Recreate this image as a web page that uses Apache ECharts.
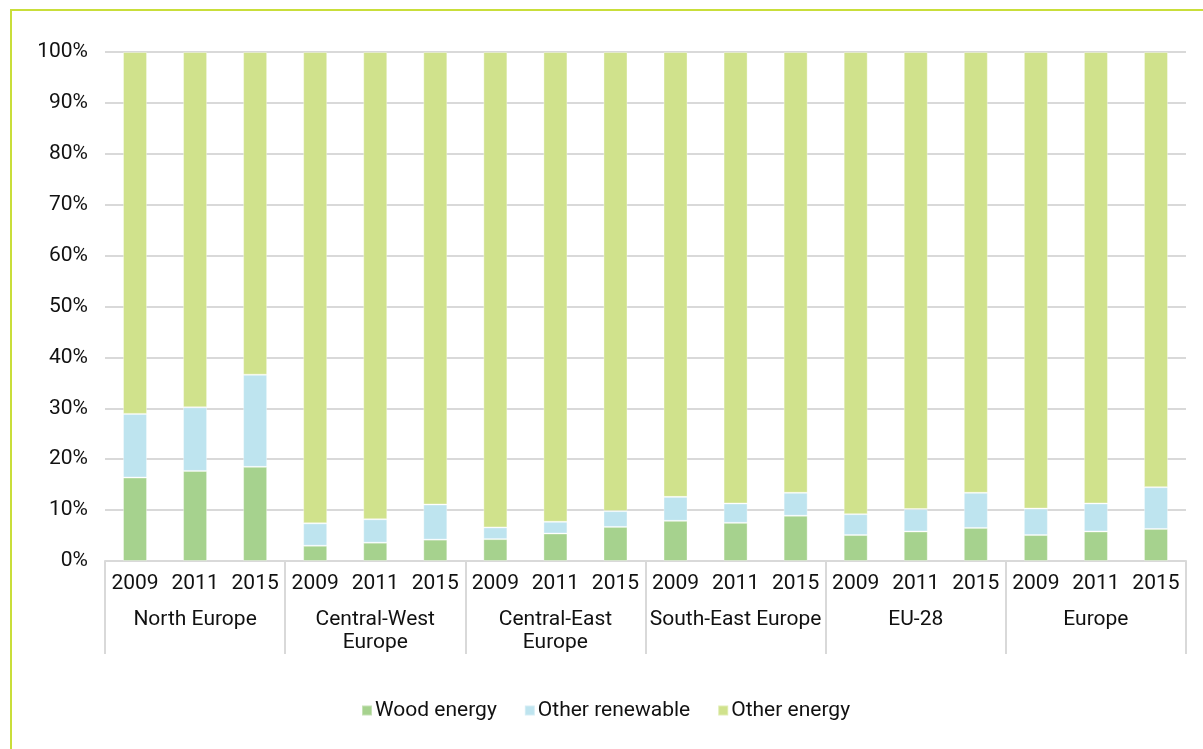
<!DOCTYPE html>
<html>
<head>
<meta charset="utf-8">
<script src="https://cdn.jsdelivr.net/npm/echarts@6/dist/echarts.min.js"></script>
<style>
html,body{margin:0;padding:0;background:#fff;}
#chart{width:1203px;height:749px;}
</style>
</head>
<body>
<div id="chart"></div>
<script>
const groups = ['North Europe', 'Central-West\nEurope', 'Central-East\nEurope', 'South-East Europe', 'EU-28', 'Europe'];
const years = ['2009', '2011', '2015'];
const yTicks = ['0%','10%','20%','30%','40%','50%','60%','70%','80%','90%','100%'];
const woodEnergy = [16.4, 17.7, 18.5, 3.0, 3.6, 4.2, 4.3, 5.4, 6.7, 7.9, 7.5, 8.9, 5.1, 5.8, 6.5, 5.1, 5.8, 6.3];
const otherRenewable = [12.5, 12.5, 18.1, 4.4, 4.6, 6.9, 2.3, 2.3, 3.1, 4.7, 3.8, 4.5, 4.1, 4.4, 6.9, 5.2, 5.5, 8.2];
const otherEnergy = [71.1, 69.8, 63.4, 92.6, 91.8, 88.9, 93.4, 92.3, 90.2, 87.4, 88.7, 86.6, 90.8, 89.8, 86.6, 89.7, 88.7, 85.5];

const yearCats = [];
groups.forEach(() => years.forEach(y => yearCats.push(y)));

const FONT = 'Roboto';
const FS = 21;
const chart = echarts.init(document.getElementById('chart'));
const barStyle = (color) => ({
  type: 'bar', stack: 'total', barWidth: 24,
  itemStyle: { color: color, borderColor: 'rgba(255,255,255,0.35)', borderWidth: 1 }
});
chart.setOption({
  animation: false,
  backgroundColor: '#fff',
  textStyle: { fontFamily: FONT },
  graphic: [{
    type: 'rect', shape: { x: 11, y: 10, width: 1400, height: 900 },
    style: { fill: 'none', stroke: '#c9de3a', lineWidth: 2 }, silent: true, z: -1
  }],
  grid: { left: 105, right: 17, top: 52, bottom: 188, containLabel: false },
  legend: {
    left: 356, top: 695,
    itemWidth: 10, itemHeight: 10, itemGap: 27,
    icon: 'rect',
    textStyle: { fontFamily: FONT, fontSize: FS, color: '#111', padding: [0, 0, 0, -2] },
    data: ['Wood energy', 'Other renewable', 'Other energy']
  },
  xAxis: [{
    type: 'category', data: yearCats, position: 'bottom',
    axisLine: { show: true, lineStyle: { color: '#d9d9d9', width: 2 } },
    axisTick: { show: false },
    axisLabel: { fontFamily: FONT, fontSize: FS, color: '#111', margin: 12, interval: 0 }
  }, {
    type: 'category', data: groups, position: 'bottom',
    axisLine: { show: false },
    axisTick: { show: true, length: 93, alignWithLabel: false, lineStyle: { color: '#d9d9d9', width: 2 } },
    axisLabel: { fontFamily: FONT, fontSize: FS, color: '#111', margin: 47, interval: 0, lineHeight: 23 }
  }],
  yAxis: {
    type: 'value', min: 0, max: 100, interval: 10,
    axisLine: { show: false }, axisTick: { show: false },
    splitLine: { lineStyle: { color: '#d9d9d9', width: 2 } },
    axisLabel: {
      fontFamily: FONT, fontSize: FS, color: '#111', margin: 17,
      formatter: (v) => yTicks[Math.round(v / 10)]
    }
  },
  series: [
    Object.assign(barStyle('#a6d28e'), { name: 'Wood energy', data: woodEnergy }),
    Object.assign(barStyle('#bee4ef'), { name: 'Other renewable', data: otherRenewable }),
    Object.assign(barStyle('#d0e28c'), { name: 'Other energy', data: otherEnergy })
  ]
});
</script>
</body>
</html>
